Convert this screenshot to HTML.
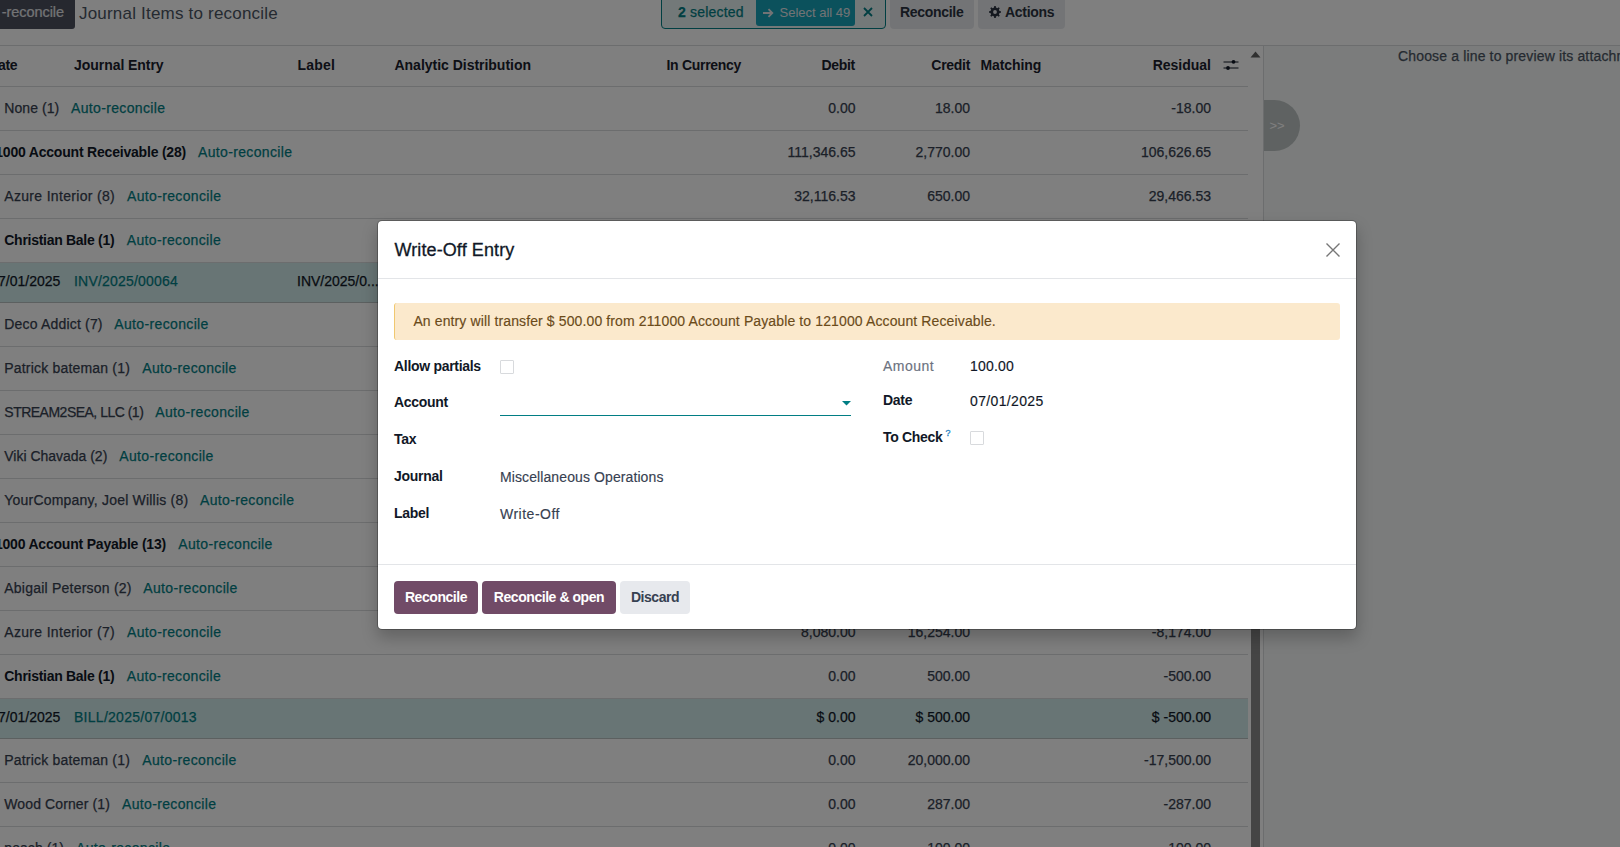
<!DOCTYPE html>
<html><head><meta charset="utf-8">
<style>
*{box-sizing:border-box;margin:0;padding:0}
html,body{width:1620px;height:847px;overflow:hidden;background:#fff;font-family:"Liberation Sans",sans-serif;color:#374151}
.a{position:absolute;white-space:nowrap;line-height:1}
.t{font-size:14px;-webkit-text-stroke:0.25px currentColor}
.b{-webkit-text-stroke:0}
.b{font-weight:700;letter-spacing:-0.3px}
.hd{color:#1a202c}
.lnk{color:#017e84;letter-spacing:0.35px}
.r{text-align:right}
.grp{color:#374151}
.grpo{color:#111827;-webkit-text-stroke:0}
.num{color:#374151}
.rec{color:#111827}
.line{position:absolute;left:0;width:1248px;height:1px;background:#d8dadd}
.sel{position:absolute;left:0;width:1248px;background:#d0eaea}
#ov{position:absolute;left:0;top:0;width:1620px;height:847px;background:rgba(0,0,0,0.5)}
#modal{position:absolute;left:377px;top:220px;width:980px;height:410px;background:#fff;border:1px solid rgba(0,0,0,0.25);background-clip:padding-box;border-radius:5px;box-shadow:0 8px 16px rgba(0,0,0,0.22)}
.m{position:absolute;white-space:nowrap;line-height:1;font-size:14px;-webkit-text-stroke:0.15px currentColor}
.m.b{-webkit-text-stroke:0}
.btn{position:absolute;height:33px;border-radius:4px;font-size:14px;font-weight:700;letter-spacing:-0.45px;line-height:33px;text-align:center}
.cb{position:absolute;width:14px;height:14px;border:1px solid #d8dadd;border-radius:1px;background:#fff}
</style></head><body>
<div id="bg">
  <!-- top bar -->
  <div class="a" style="left:0;top:0;width:75px;height:29px;background:#4c505e;border-bottom-right-radius:3px"></div>
  <div class="a" style="right:1556px;top:4.9px;color:#e5e7eb;font-size:14.5px;-webkit-text-stroke:0.2px #e5e7eb;letter-spacing:-0.05px">-reconcile</div>
  <div class="a" style="left:79px;top:5px;font-size:17px;color:#4b5563;letter-spacing:0.2px">Journal Items to reconcile</div>

  <div class="a" style="left:661px;top:-1px;width:225px;height:30px;border:1px solid #017e84;border-radius:0 0 4px 4px;background:#e6f2f3"></div>
  <div class="a t" style="left:678px;top:5.2px;color:#017e84;letter-spacing:0.2px"><b>2</b> selected</div>
  <div class="a" style="left:756px;top:0;width:99px;height:26px;background:#17a2b8;border-radius:0 0 3px 3px"></div>
  <svg class="a" style="left:762px;top:8px" width="12" height="10" viewBox="0 0 12 10"><path d="M1 5H10M6.5 1.2L10.3 5L6.5 8.8" stroke="#e5e7eb" stroke-width="1.8" fill="none"/></svg>
  <div class="a" style="left:779.5px;top:5.6px;color:#e5e7eb;font-size:13px">Select all 49</div>
  <svg class="a" style="left:863px;top:7px" width="10" height="10" viewBox="0 0 10 10"><path d="M1 1L9 9M9 1L1 9" stroke="#017e84" stroke-width="1.8"/></svg>
  <div class="a" style="left:890px;top:0;width:84px;height:29px;background:#e7e9ed;border-radius:0 0 4px 4px"></div>
  <div class="a t b" style="left:900px;top:5px;color:#2b3340">Reconcile</div>
  <div class="a" style="left:978px;top:0;width:87px;height:29px;background:#e7e9ed;border-radius:0 0 4px 4px"></div>
  <svg class="a" style="left:988.5px;top:6px" width="12" height="12" viewBox="0 0 12 12"><path fill-rule="evenodd" d="M10.49 5.01 L11.95 5.22 L11.95 6.78 L10.49 6.99 L9.87 8.48 L10.76 9.66 L9.66 10.76 L8.48 9.87 L6.99 10.49 L6.78 11.95 L5.22 11.95 L5.01 10.49 L3.52 9.87 L2.34 10.76 L1.24 9.66 L2.13 8.48 L1.51 6.99 L0.05 6.78 L0.05 5.22 L1.51 5.01 L2.13 3.52 L1.24 2.34 L2.34 1.24 L3.52 2.13 L5.01 1.51 L5.22 0.05 L6.78 0.05 L6.99 1.51 L8.48 2.13 L9.66 1.24 L10.76 2.34 L9.87 3.52Z M7.9 6 A1.9 1.9 0 1 0 4.1 6 A1.9 1.9 0 1 0 7.9 6Z" fill="#2b3340"/></svg>
  <div class="a t b" style="left:1005px;top:5px;color:#2b3340">Actions</div>

  <!-- table -->
  <div class="a" style="left:0;top:45px;width:1620px;height:1px;background:#d8dadd"></div>
  <div class="a t b hd" style="left:-2px;top:58px">ate</div>
  <div class="a t b hd" style="left:74px;top:58px;letter-spacing:-0.05px">Journal Entry</div>
  <div class="a t b hd" style="left:297.5px;top:58px;letter-spacing:0.2px">Label</div>
  <div class="a t b hd" style="left:394.5px;top:58px;letter-spacing:-0.02px">Analytic Distribution</div>
  <div class="a t b hd r" style="right:879px;top:58px">In Currency</div>
  <div class="a t b hd r" style="right:765px;top:58px">Debit</div>
  <div class="a t b hd r" style="right:650px;top:58px">Credit</div>
  <div class="a t b hd" style="left:980.5px;top:58px;letter-spacing:-0.1px">Matching</div>
  <div class="a t b hd r" style="right:409px;top:58px;letter-spacing:0">Residual</div>
  <!-- right panel -->
  <div class="a" style="left:1263px;top:46px;width:357px;height:801px;background:#f6f9f8"></div>
  <div class="a" style="left:1263px;top:45px;width:1px;height:802px;background:#d8dadd"></div>
  <div class="a" style="left:0;top:86px;width:1248px;height:1px;background:#d8dadd"></div>
  <div class="a t" style="left:1398px;top:49px;color:#4b5563;letter-spacing:0.15px">Choose a line to preview its attachment</div>
  <div class="a" style="left:1264px;top:100px;width:36px;height:51px;background:#bec4c4;border-radius:0 26px 26px 0"></div>
  <div class="a" style="left:1269.5px;top:118.5px;font-size:13px;color:#ffffff">&gt;&gt;</div>
  <svg class="a" style="left:1250px;top:51px" width="11" height="7" viewBox="0 0 11 7"><path d="M0.5 6.5L5.5 0.5L10.5 6.5Z" fill="#606060"/></svg>
  <div class="a" style="left:1251px;top:320px;width:9px;height:527px;background:#8a8a8a"></div>
  <svg class="a" style="left:1223px;top:59px" width="16" height="12" viewBox="0 0 16 12"><path d="M0.5 3H15.5M0.5 9H15.5" stroke="#111827" stroke-width="1"/><circle cx="10.5" cy="2.8" r="1.9" fill="#111827"/><circle cx="5" cy="9" r="1.9" fill="#111827"/></svg>
  <div id="rows">
  <div class="a t grp" style="left:4.3px;top:100.95px;letter-spacing:0.066px">None (1)</div>
  <div class="a t lnk" style="left:71px;top:100.95px">Auto-reconcile</div>
  <div class="a t num" style="right:764.5px;top:100.95px">0.00</div>
  <div class="a t num" style="right:650px;top:100.95px">18.00</div>
  <div class="a t num" style="right:409px;top:100.95px">-18.00</div>
  <div class="line" style="top:130px"></div>
  <div class="a t grpo" style="right:1434px;top:144.95px;font-weight:700;letter-spacing:-0.2px">121000 Account Receivable (28)</div>
  <div class="a t lnk" style="left:198px;top:144.95px">Auto-reconcile</div>
  <div class="a t num" style="right:764.5px;top:144.95px">111,346.65</div>
  <div class="a t num" style="right:650px;top:144.95px">2,770.00</div>
  <div class="a t num" style="right:409px;top:144.95px">106,626.65</div>
  <div class="line" style="top:174px"></div>
  <div class="a t grp" style="left:4.3px;top:188.95px;letter-spacing:0.314px">Azure Interior (8)</div>
  <div class="a t lnk" style="left:127px;top:188.95px">Auto-reconcile</div>
  <div class="a t num" style="right:764.5px;top:188.95px">32,116.53</div>
  <div class="a t num" style="right:650px;top:188.95px">650.00</div>
  <div class="a t num" style="right:409px;top:188.95px">29,466.53</div>
  <div class="line" style="top:218px"></div>
  <div class="a t grpo" style="left:4.3px;top:232.95px;letter-spacing:-0.286px;font-weight:700">Christian Bale (1)</div>
  <div class="a t lnk" style="left:126.7px;top:232.95px">Auto-reconcile</div>
  <div class="a t num" style="right:764.5px;top:232.95px">0.00</div>
  <div class="a t num" style="right:650px;top:232.95px">500.00</div>
  <div class="a t num" style="right:409px;top:232.95px">-500.00</div>
  <div class="line" style="top:262px"></div>
  <div class="sel" style="top:263px;height:39px"></div>
  <div class="a t rec" style="right:1559.7px;top:274.35px">07/01/2025</div>
  <div class="a t lnk" style="left:74px;top:274.35px;letter-spacing:0.2px">INV/2025/00064</div>
  <div class="a t rec" style="left:297px;top:274.35px">INV/2025/0...</div>
  <div class="line" style="top:302px;background:#b8c0c0"></div>
  <div class="a t grp" style="left:4.3px;top:316.95px;letter-spacing:0.179px">Deco Addict (7)</div>
  <div class="a t lnk" style="left:114.3px;top:316.95px">Auto-reconcile</div>
  <div class="line" style="top:346px"></div>
  <div class="a t grp" style="left:4.3px;top:360.95px;letter-spacing:0.186px">Patrick bateman (1)</div>
  <div class="a t lnk" style="left:142.3px;top:360.95px">Auto-reconcile</div>
  <div class="line" style="top:390px"></div>
  <div class="a t grp" style="left:4.3px;top:404.95px;letter-spacing:-0.506px">STREAM2SEA, LLC (1)</div>
  <div class="a t lnk" style="left:155.3px;top:404.95px">Auto-reconcile</div>
  <div class="line" style="top:434px"></div>
  <div class="a t grp" style="left:4.3px;top:448.95px;letter-spacing:-0.016px">Viki Chavada (2)</div>
  <div class="a t lnk" style="left:119.3px;top:448.95px">Auto-reconcile</div>
  <div class="line" style="top:478px"></div>
  <div class="a t grp" style="left:4.3px;top:492.95px;letter-spacing:0.208px">YourCompany, Joel Willis (8)</div>
  <div class="a t lnk" style="left:200px;top:492.95px">Auto-reconcile</div>
  <div class="line" style="top:522px"></div>
  <div class="a t grpo" style="right:1454px;top:536.95px;font-weight:700;letter-spacing:-0.2px">121000 Account Payable (13)</div>
  <div class="a t lnk" style="left:178.3px;top:536.95px">Auto-reconcile</div>
  <div class="line" style="top:566px"></div>
  <div class="a t grp" style="left:4.3px;top:580.95px;letter-spacing:0.222px">Abigail Peterson (2)</div>
  <div class="a t lnk" style="left:143.3px;top:580.95px">Auto-reconcile</div>
  <div class="line" style="top:610px"></div>
  <div class="a t grp" style="left:4.3px;top:624.95px;letter-spacing:0.314px">Azure Interior (7)</div>
  <div class="a t lnk" style="left:127px;top:624.95px">Auto-reconcile</div>
  <div class="a t num" style="right:764.5px;top:624.95px">8,080.00</div>
  <div class="a t num" style="right:650px;top:624.95px">16,254.00</div>
  <div class="a t num" style="right:409px;top:624.95px">-8,174.00</div>
  <div class="line" style="top:654px"></div>
  <div class="a t grpo" style="left:4.3px;top:668.95px;letter-spacing:-0.286px;font-weight:700">Christian Bale (1)</div>
  <div class="a t lnk" style="left:126.7px;top:668.95px">Auto-reconcile</div>
  <div class="a t num" style="right:764.5px;top:668.95px">0.00</div>
  <div class="a t num" style="right:650px;top:668.95px">500.00</div>
  <div class="a t num" style="right:409px;top:668.95px">-500.00</div>
  <div class="line" style="top:698px"></div>
  <div class="sel" style="top:699px;height:39px"></div>
  <div class="a t rec" style="right:1559.7px;top:710.35px">07/01/2025</div>
  <div class="a t lnk" style="left:74px;top:710.35px;letter-spacing:0.27px">BILL/2025/07/0013</div>
  <div class="a t rec" style="right:764.5px;top:710.35px">$ 0.00</div>
  <div class="a t rec" style="right:650px;top:710.35px">$ 500.00</div>
  <div class="a t rec" style="right:409px;top:710.35px">$ -500.00</div>
  <div class="line" style="top:738px;background:#b8c0c0"></div>
  <div class="a t grp" style="left:4.3px;top:752.95px;letter-spacing:0.186px">Patrick bateman (1)</div>
  <div class="a t lnk" style="left:142.3px;top:752.95px">Auto-reconcile</div>
  <div class="a t num" style="right:764.5px;top:752.95px">0.00</div>
  <div class="a t num" style="right:650px;top:752.95px">20,000.00</div>
  <div class="a t num" style="right:409px;top:752.95px">-17,500.00</div>
  <div class="line" style="top:782px"></div>
  <div class="a t grp" style="left:4.3px;top:796.95px;letter-spacing:0.112px">Wood Corner (1)</div>
  <div class="a t lnk" style="left:122px;top:796.95px">Auto-reconcile</div>
  <div class="a t num" style="right:764.5px;top:796.95px">0.00</div>
  <div class="a t num" style="right:650px;top:796.95px">287.00</div>
  <div class="a t num" style="right:409px;top:796.95px">-287.00</div>
  <div class="line" style="top:826px"></div>
  <div class="a t grp" style="left:4.3px;top:840.95px;letter-spacing:0.06px">peach (1)</div>
  <div class="a t lnk" style="left:76px;top:840.95px">Auto-reconcile</div>
  <div class="a t num" style="right:764.5px;top:840.95px">0.00</div>
  <div class="a t num" style="right:650px;top:840.95px">100.00</div>
  <div class="a t num" style="right:409px;top:840.95px">-100.00</div>
  <div class="line" style="top:870px"></div>
  </div><!--/rows-->
</div>
<div id="ov"></div>
<div id="modal">
  <div class="m" style="left:16.5px;top:19.6px;font-size:18px;color:#111827;-webkit-text-stroke:0.3px #111827;letter-spacing:0.1px">Write-Off Entry</div>
  <svg style="position:absolute;left:948px;top:22px" width="14" height="14" viewBox="0 0 14 14"><path d="M0.5 0.5L13.5 13.5M13.5 0.5L0.5 13.5" stroke="#767676" stroke-width="1.4"/></svg>
  <div style="position:absolute;left:0;top:57px;width:978px;height:1px;background:#e3e5e8"></div>
  <div style="position:absolute;left:16px;top:82px;width:946px;height:37px;background:#fbe9cc;border-radius:3px;border-left:1px solid #f0c870"></div>
  <div class="m" style="left:35.4px;top:92.6px;color:#6b4b1a;letter-spacing:0.12px">An entry will transfer $ 500.00 from 211000 Account Payable to 121000 Account Receivable.</div>
  <div class="m b" style="left:16px;top:138px;color:#111827">Allow partials</div>
  <div class="cb" style="left:122px;top:139px"></div>
  <div class="m b" style="left:16px;top:174.2px;color:#111827">Account</div>
  <div style="position:absolute;left:122px;top:194px;width:351px;height:1px;background:#017e84"></div>
  <svg style="position:absolute;left:464px;top:180px" width="9" height="5" viewBox="0 0 9 5"><path d="M0 0L9 0L4.5 4.5Z" fill="#017e84"/></svg>
  <div class="m b" style="left:16px;top:210.9px;color:#111827">Tax</div>
  <div class="m b" style="left:16px;top:248px;color:#111827">Journal</div>
  <div class="m" style="left:122px;top:249px;color:#374151;letter-spacing:0.1px">Miscellaneous Operations</div>
  <div class="m b" style="left:16px;top:285px;color:#111827">Label</div>
  <div class="m" style="left:122px;top:286px;color:#374151;letter-spacing:0.5px">Write-Off</div>
  <div class="m" style="left:505px;top:138.2px;color:#6b7280;letter-spacing:0.5px">Amount</div>
  <div class="m" style="left:592px;top:138.2px;color:#111827;letter-spacing:0.2px">100.00</div>
  <div class="m b" style="left:505px;top:172.2px;color:#111827">Date</div>
  <div class="m" style="left:592px;top:172.8px;color:#111827;letter-spacing:0.35px">07/01/2025</div>
  <div class="m b" style="left:505px;top:209px;color:#111827">To Check</div>
  <div class="m" style="left:567.5px;top:207.9px;font-size:9px;color:#1f7fc0;-webkit-text-stroke:0.3px #1f7fc0">?</div>
  <div class="cb" style="left:592px;top:210px"></div>
  <div style="position:absolute;left:0;top:343px;width:978px;height:1px;background:#e3e5e8"></div>
  <div class="btn" style="left:16px;top:360px;width:84px;background:#714b67;color:#fff">Reconcile</div>
  <div class="btn" style="left:104px;top:360px;width:134px;background:#714b67;color:#fff">Reconcile &amp; open</div>
  <div class="btn" style="left:242px;top:360px;width:70px;background:#e7e9ed;color:#374151">Discard</div>
</div>
</body></html>
